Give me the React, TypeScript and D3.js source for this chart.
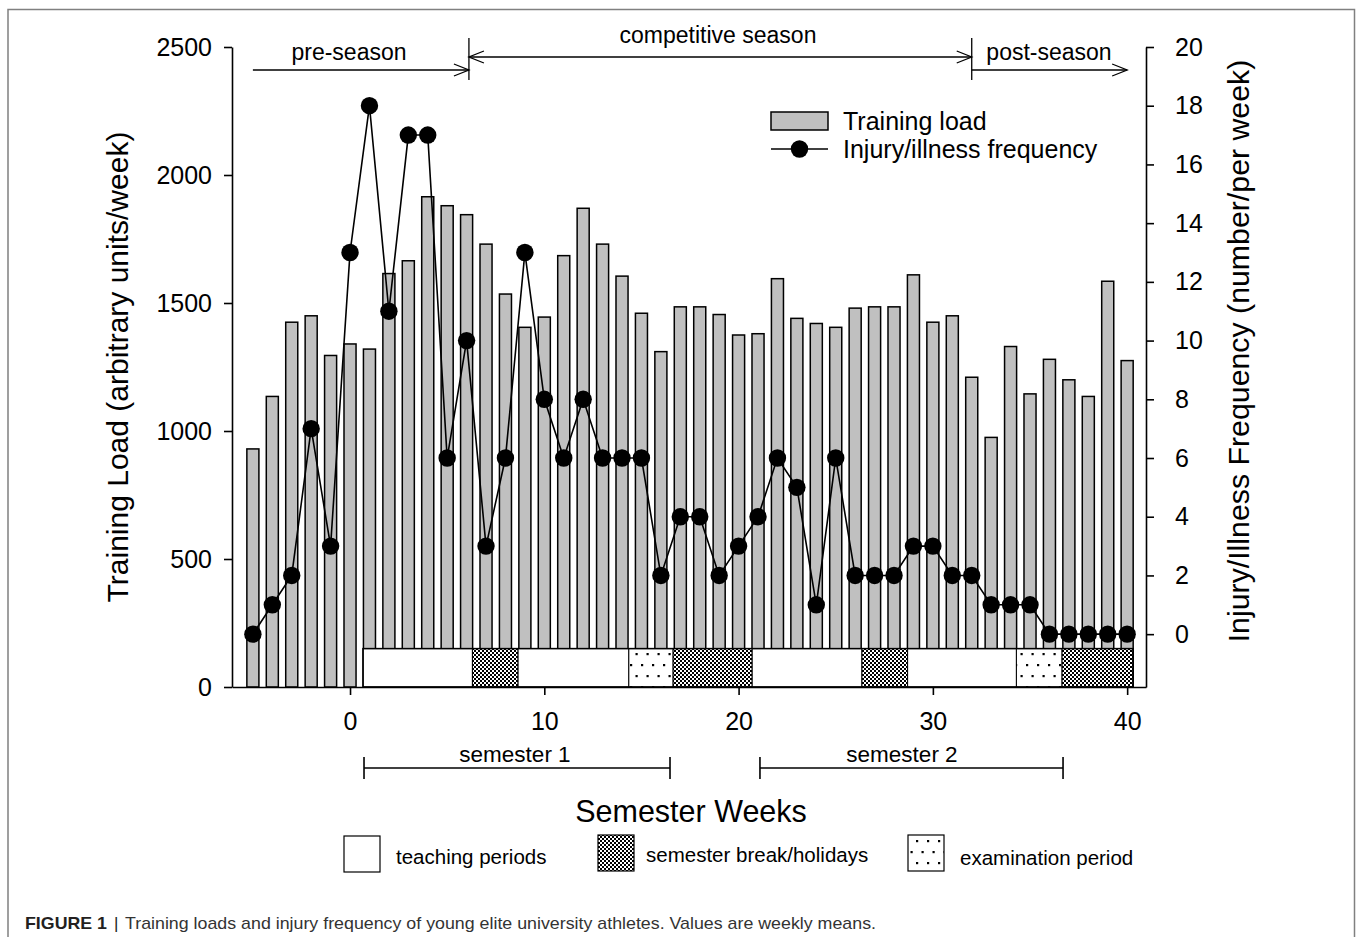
import React, { useEffect, useRef } from "react";
import * as d3 from "d3";

// ---------- data ----------
const weeks = [-5, -4, -3, -2, -1, 0, 1, 2, 3, 4, 5, 6, 7, 8, 9, 10, 11, 12, 13, 14, 15, 16, 17, 18, 19, 20, 21, 22, 23, 24, 25, 26, 27, 28, 29, 30, 31, 32, 33, 34, 35, 36, 37, 38, 39, 40];
const trainingLoad = [930, 1135, 1425, 1450, 1295, 1340, 1320, 1615, 1665, 1915, 1880, 1845, 1730, 1535, 1405, 1445, 1685, 1870, 1730, 1605, 1460, 1310, 1485, 1485, 1455, 1375, 1380, 1595, 1440, 1420, 1405, 1480, 1485, 1485, 1610, 1425, 1450, 1210, 975, 1330, 1145, 1280, 1200, 1135, 1585, 1275];
const injuryFrequency = [0, 1, 2, 7, 3, 13, 18, 11, 17, 17, 6, 10, 3, 6, 13, 8, 6, 8, 6, 6, 6, 2, 4, 4, 2, 3, 4, 6, 5, 1, 6, 2, 2, 2, 3, 3, 2, 2, 1, 1, 1, 0, 0, 0, 0, 0];

const leftTicks = [0, 500, 1000, 1500, 2000, 2500];
const rightTicks = [0, 2, 4, 6, 8, 10, 12, 14, 16, 18, 20];
const xTicks = [0, 10, 20, 30, 40];

const periodTypes = ["teaching", "break", "teaching", "exam", "break", "teaching", "break", "teaching", "exam", "break"];
const periodBounds = [0.67, 6.3, 8.65, 14.35, 16.63, 20.7, 26.35, 28.7, 34.3, 36.65, 40.3];

const seasonLabels = ["pre-season", "competitive season", "post-season"];
const seasonBounds = [-5, 6.12, 32, 40];

const semesterLabels = ["semester 1", "semester 2"];
const semesterStart = [0.72, 21.1];
const semesterEnd = [16.47, 36.7];

const periodLegendTypes = ["teaching", "break", "exam"];
const periodLegendLabels = ["teaching periods", "semester break/holidays", "examination period"];

const FONT = "'Liberation Sans', Arial, Helvetica, sans-serif";

export default function App() {
  const W = 1358, H = 937;
  const left = 232, right = 1146, top = 47, bottom = 687;
  const x = d3.scaleLinear().domain([-6.075, 40.97]).range([left, right]);
  const yL = d3.scaleLinear().domain([0, 2500]).range([bottom, top]);
  const yR = d3.scaleLinear().domain([-1.8, 20]).range([bottom, top]);
  const barW = x(0.62) - x(0);
  const stripTop = yL(150);

  const leftRef = useRef<SVGGElement>(null);
  const rightRef = useRef<SVGGElement>(null);
  const bottomRef = useRef<SVGGElement>(null);

  useEffect(() => {
    const style = (g: any) => {
      g.attr("font-family", FONT).attr("font-size", 25);
      g.selectAll("path").attr("stroke", "#000").attr("stroke-width", 1.6);
      g.selectAll("line").attr("stroke", "#000").attr("stroke-width", 1.6);
      g.selectAll("text").attr("fill", "#000");
    };
    const fmt = d3.format("d");
    const gl = d3.select(leftRef.current);
    gl.call(d3.axisLeft(yL).tickValues(leftTicks).tickFormat(fmt as any).tickSize(8).tickSizeOuter(0).tickPadding(12) as any);
    style(gl);
    const gr = d3.select(rightRef.current);
    gr.call(d3.axisRight(yR).tickValues(rightTicks).tickFormat(fmt as any).tickSize(8).tickSizeOuter(0).tickPadding(21) as any);
    style(gr);
    const gb = d3.select(bottomRef.current);
    gb.call(d3.axisBottom(x).tickValues(xTicks).tickFormat(fmt as any).tickSize(8).tickSizeOuter(0).tickPadding(17) as any);
    style(gb);
  }, []);

  const line = d3.line<number>().x((_, i) => x(weeks[i])).y((d) => yR(d));

  const fillFor = (t: string) => (t === "break" ? "url(#checker)" : t === "exam" ? "url(#dots)" : "#fff");

  const arrowHead = (tipX: number, y: number, dir: number) =>
    `M${tipX - dir * 15},${y - 6}L${tipX},${y}L${tipX - dir * 15},${y + 6}`;

  const legendBoxX = [344, 598, 908];
  const legendTextX = [396, 646, 960];
  const legendTextY = [864, 862, 865];

  return (
    <svg width={W} height={H} style={{ position: "absolute", left: 0, top: 0, display: "block", background: "#fff" }} fontFamily={FONT}>
      <defs>
        <pattern id="checker" width={4} height={4} patternUnits="userSpaceOnUse">
          <rect width={4} height={4} fill="#fff" />
          <rect x={0} y={0} width={2} height={2} fill="#000" />
          <rect x={2} y={2} width={2} height={2} fill="#000" />
        </pattern>
        <pattern id="dots" width={11} height={22} patternUnits="userSpaceOnUse">
          <rect width={11} height={22} fill="#fff" />
          <rect x={3} y={4} width={2.2} height={2.2} fill="#000" />
          <rect x={8.5} y={15} width={2.2} height={2.2} fill="#000" />
        </pattern>
      </defs>

      {/* frame */}
      <path d={`M8,${H + 2}V9.5H1354.5V${H + 2}`} fill="none" stroke="#808080" strokeWidth={1.5} />

      {/* bars */}
      {trainingLoad.map((v, i) => (
        <rect key={"b" + i} x={x(weeks[i]) - barW / 2} y={yL(v)} width={barW} height={yL(0) - yL(v)} fill="#c0c0c0" stroke="#000" strokeWidth={1.5} />
      ))}

      {/* period strip */}
      {periodTypes.map((t, i) => (
        <rect key={"p" + i} x={x(periodBounds[i])} y={stripTop} width={x(periodBounds[i + 1]) - x(periodBounds[i])} height={bottom - stripTop} fill={fillFor(t)} stroke="#000" strokeWidth={1} />
      ))}
      <rect x={x(periodBounds[0])} y={stripTop} width={x(periodBounds[periodBounds.length - 1]) - x(periodBounds[0])} height={bottom - stripTop} fill="none" stroke="#000" strokeWidth={1.5} />

      {/* injury line */}
      <path d={line(injuryFrequency) || ""} fill="none" stroke="#000" strokeWidth={1.6} />
      {injuryFrequency.map((v, i) => (
        <circle key={"c" + i} cx={x(weeks[i])} cy={yR(v)} r={8.7} fill="#000" />
      ))}

      {/* axes */}
      <g ref={leftRef} transform={`translate(${left},0)`} />
      <g ref={rightRef} transform={`translate(${right},0)`} />
      <g ref={bottomRef} transform={`translate(0,${bottom})`} />

      {/* axis titles */}
      <text transform={`translate(128,367) rotate(-90)`} textAnchor="middle" fontSize={30}>Training Load (arbitrary units/week)</text>
      <text transform={`translate(1249,351) rotate(-90)`} textAnchor="middle" fontSize={30.3}>Injury/Illness Frequency (number/per week)</text>
      <text x={691} y={822} textAnchor="middle" fontSize={30.5}>Semester Weeks</text>

      {/* season annotations */}
      <g stroke="#000" strokeWidth={1.3} fill="none">
        <line x1={x(seasonBounds[0])} x2={x(seasonBounds[1])} y1={70} y2={70} />
        <path d={arrowHead(x(seasonBounds[1]), 70, 1)} />
        <line x1={x(seasonBounds[1])} x2={x(seasonBounds[1])} y1={38} y2={80} />
        <line x1={x(seasonBounds[1])} x2={x(seasonBounds[2])} y1={57} y2={57} />
        <path d={arrowHead(x(seasonBounds[1]), 57, -1)} />
        <path d={arrowHead(x(seasonBounds[2]), 57, 1)} />
        <line x1={x(seasonBounds[2])} x2={x(seasonBounds[2])} y1={38} y2={80} />
        <line x1={x(seasonBounds[2])} x2={x(seasonBounds[3])} y1={70} y2={70} />
        <path d={arrowHead(x(seasonBounds[3]), 70, 1)} />
      </g>
      <text x={349} y={60} textAnchor="middle" fontSize={23}>{seasonLabels[0]}</text>
      <text x={718} y={43} textAnchor="middle" fontSize={23}>{seasonLabels[1]}</text>
      <text x={1049} y={60} textAnchor="middle" fontSize={23}>{seasonLabels[2]}</text>

      {/* semesters */}
      {semesterLabels.map((s, i) => {
        const a = x(semesterStart[i]), b = x(semesterEnd[i]);
        return (
          <g key={"s" + i}>
            <g stroke="#000" strokeWidth={1.6}>
              <line x1={a} x2={b} y1={768} y2={768} />
              <line x1={a} x2={a} y1={757} y2={779} />
              <line x1={b} x2={b} y1={757} y2={779} />
            </g>
            <text x={i === 0 ? 515 : 902} y={762} textAnchor="middle" fontSize={22.5}>{s}</text>
          </g>
        );
      })}

      {/* top legend */}
      <rect x={771} y={112} width={57} height={18} fill="#c0c0c0" stroke="#000" strokeWidth={1.5} />
      <text x={843} y={130} fontSize={25}>Training load</text>
      <line x1={771} x2={828} y1={149} y2={149} stroke="#000" strokeWidth={1.6} />
      <circle cx={799.5} cy={149} r={8.7} fill="#000" />
      <text x={843} y={158} fontSize={25}>Injury/illness frequency</text>

      {/* period legend */}
      {periodLegendTypes.map((t, i) => (
        <g key={"l" + i}>
          <rect x={legendBoxX[i]} y={i === 0 ? 836 : 835} width={36} height={36} fill={fillFor(t)} stroke="#000" strokeWidth={1.2} />
          <text x={legendTextX[i]} y={legendTextY[i]} fontSize={20.5}>{periodLegendLabels[i]}</text>
        </g>
      ))}

      {/* caption */}
      <text x={25} y={929} fontSize={17} fontWeight="bold" fill="#231f20" textLength={82} lengthAdjust="spacingAndGlyphs">FIGURE 1</text>
      <text x={114} y={929} fontSize={17} fill="#231f20">|</text>
      <text x={125} y={929} fontSize={17} fill="#333" textLength={751} lengthAdjust="spacingAndGlyphs">Training loads and injury frequency of young elite university athletes. Values are weekly means.</text>
    </svg>
  );
}
